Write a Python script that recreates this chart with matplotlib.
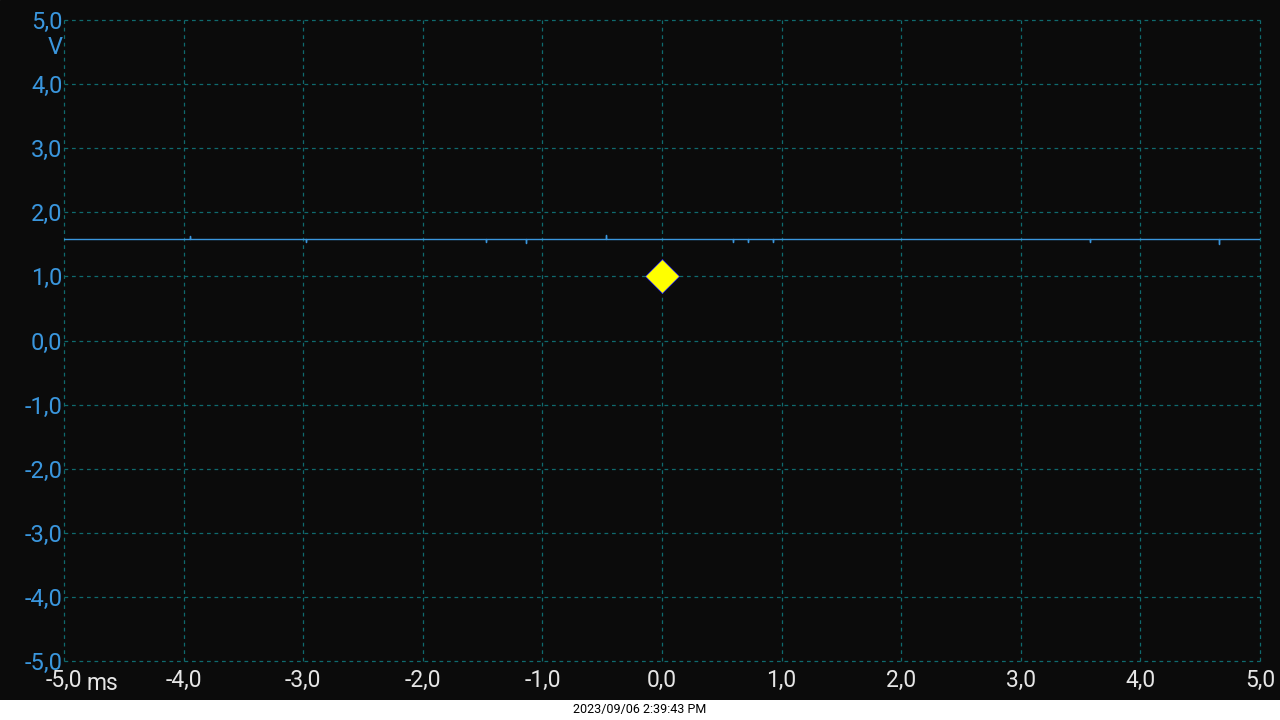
import numpy as np
import matplotlib
matplotlib.use("Agg")
import matplotlib.pyplot as plt

plt.rcParams['font.family'] = ['Roboto', 'DejaVu Sans']

# DATOS DEL OSCILOSCOPIO
t_inicio, t_fin = -5.0, 5.0          # ms
nivel_base = 1.58                    # V
tiempos_pico = [-3.95, -2.98, -1.47, -1.14, -0.47, 0.59, 0.72, 0.93, 3.58, 4.66]
deltas_pico = [0.05, -0.05, -0.05, -0.06, 0.06, -0.05, -0.05, -0.05, -0.05, -0.07]

disparo_t = 0.0
disparo_v = 1.0

ticks_x = [-5, -4, -3, -2, -1, 0, 1, 2, 3, 4, 5]
ticks_y = [5, 4, 3, 2, 1, 0, -1, -2, -3, -4, -5]
marca_tiempo = "2023/09/06 2:39:43 PM"

FONDO = '#0b0b0b'
AZUL = '#3a96dd'
BLANCO = '#e6e6e6'
REJILLA = '#0f6a6e'

# construir la traza con los picos
xs = [t_inicio]
ys = [nivel_base]
for tp, dp in zip(tiempos_pico, deltas_pico):
    xs += [tp, tp, tp]
    ys += [nivel_base, nivel_base + dp, nivel_base]
xs.append(t_fin)
ys.append(nivel_base)

fig = plt.figure(figsize=(12.8, 7.2), dpi=100, facecolor='white')
# zona negra de la pantalla (franja blanca abajo)
fondo = fig.add_axes([0, 20 / 720, 1, 700 / 720])
fondo.set_axis_off()
fondo.add_patch(plt.Rectangle((0, 0), 1, 1, color=FONDO, transform=fondo.transAxes))

ax = fig.add_axes([64 / 1280, 1 - 661 / 720, 1196 / 1280, 641 / 720])
ax.set_facecolor(FONDO)
ax.set_xlim(t_inicio, t_fin)
ax.set_ylim(-5, 5)
for s in ax.spines.values():
    s.set_visible(False)

ax.set_xticks(ticks_x)
ax.set_yticks(ticks_y)
ax.set_xticklabels([f"{v:.1f}".replace('.', ',') for v in ticks_x])
ax.set_yticklabels([f"{v:.1f}".replace('.', ',') for v in ticks_y])
ax.tick_params(axis='x', colors=BLANCO, labelsize=16.5, length=0, pad=6)
ax.tick_params(axis='y', colors=AZUL, labelsize=17, length=0, pad=1)
ax.grid(True, color=REJILLA, linestyle=(0, (3, 3)), linewidth=0.9)
for gl in ax.get_xgridlines() + ax.get_ygridlines():
    gl.set_clip_on(False)

ax.plot(xs, ys, color=AZUL, linewidth=1.0, zorder=3)
ax.plot([disparo_t], [disparo_v], marker='D', markersize=17, color='#ffff00',
        markeredgecolor='#2020ff', markeredgewidth=0.5, zorder=4)

# unidades
fig.text(63 / 1280, 1 - 47 / 720, "V", color=AZUL, fontsize=17,
         ha='right', va='center')
fig.text(86 / 1280, 1 - 690 / 720, "ms", color=BLANCO, fontsize=16.5,
         ha='left', va='baseline')

fig.text(0.5, 1 - 710 / 720, marca_tiempo, color='black', fontsize=9,
         ha='center', va='center')

fig.savefig("out.png", dpi=100, facecolor=fig.get_facecolor())
